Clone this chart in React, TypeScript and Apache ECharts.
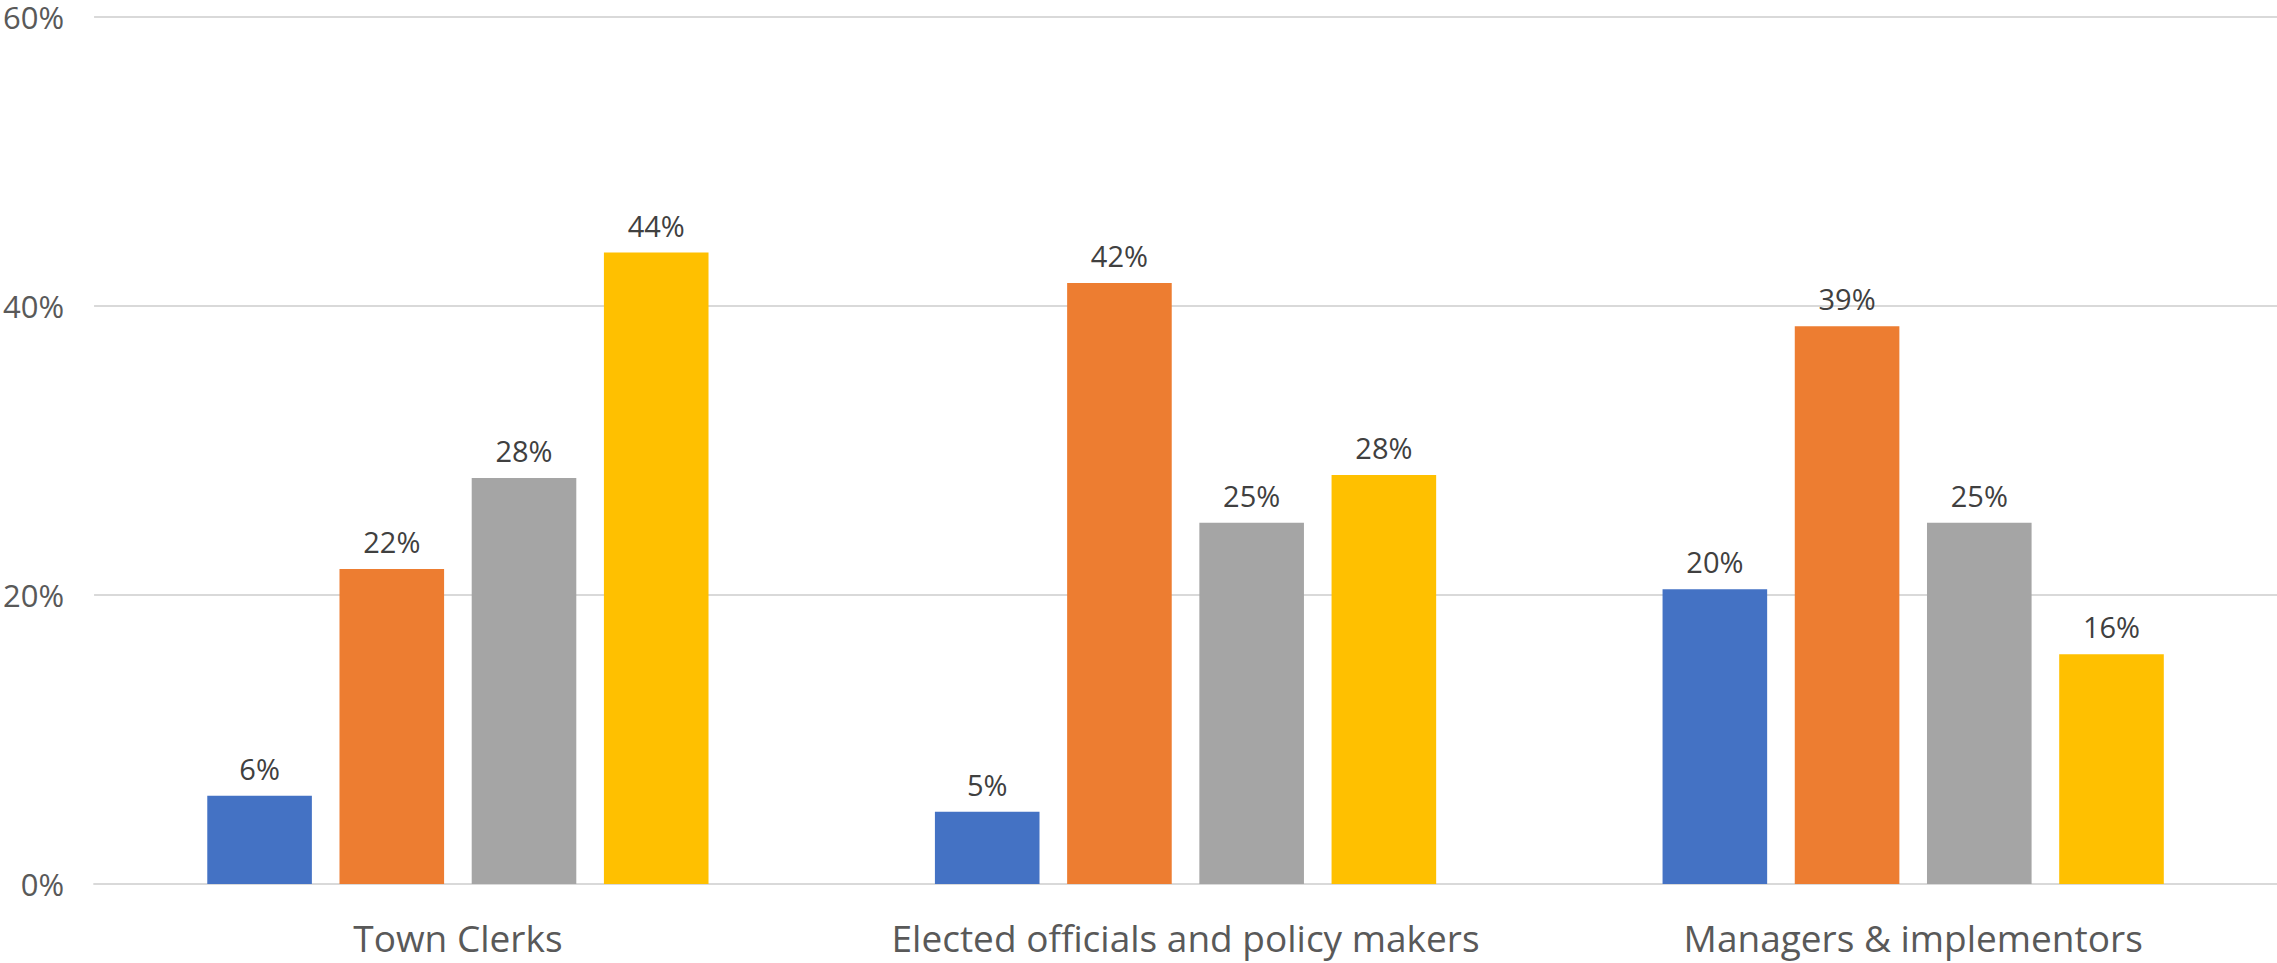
import React, { useEffect, useRef } from "react";
import * as echarts from "echarts";

const categories = ["Town Clerks", "Elected officials and policy makers", "Managers & implementors"];
const seriesA = [6.1, 5.0, 20.4];
const seriesB = [21.8, 41.6, 38.6];
const seriesC = [28.1, 25.0, 25.0];
const seriesD = [43.7, 28.3, 15.9];
const colors = ["#4472C4", "#ED7D31", "#A5A5A5", "#FFC000"];
const yTicks = { min: 0, max: 60, interval: 20 };

export default function App() {
  const ref = useRef<HTMLDivElement>(null);
  useEffect(() => {
    const chart = echarts.init(ref.current!, null, { renderer: "svg" });
    const mk = (name: string, data: number[], color: string) => ({
      name,
      type: "bar",
      data,
      barWidth: 104.6,
      barGap: "26.4%",
      itemStyle: { color },
      label: {
        show: true,
        position: "top",
        distance: 13,
        formatter: (p: any) => Math.round(p.value) + "%",
        color: "#404040",
        fontSize: 29,
        fontFamily: "Open Sans",
      },
    });
    chart.setOption({
      animation: false,
      grid: { left: 91, right: 0, top: 17, bottom: 79, containLabel: false },
      xAxis: {
        type: "category",
        data: categories,
        axisLine: { show: true, lineStyle: { color: "#D9D9D9", width: 2 } },
        axisTick: { show: false },
        axisLabel: { color: "#595959", fontSize: 37, fontFamily: "Open Sans", margin: 35, interval: 0 },
      },
      yAxis: {
        type: "value",
        min: yTicks.min,
        max: yTicks.max,
        interval: yTicks.interval,
        axisLine: { show: false },
        axisTick: { show: false },
        splitLine: { lineStyle: { color: "#D9D9D9", width: 2 } },
        axisLabel: {
          color: "#595959",
          fontSize: 31,
          lineHeight: 31,
          fontFamily: "Open Sans",
          margin: 30,
          formatter: (v: number) => v + "%",
        },
      },
      series: [
        mk("A", seriesA, colors[0]),
        mk("B", seriesB, colors[1]),
        mk("C", seriesC, colors[2]),
        mk("D", seriesD, colors[3]),
      ],
    });
    return () => chart.dispose();
  }, []);
  return (
    <div
      ref={ref}
      style={{ position: "fixed", left: 0, top: 0, width: 2277, height: 963, background: "#fff" }}
    />
  );
}
